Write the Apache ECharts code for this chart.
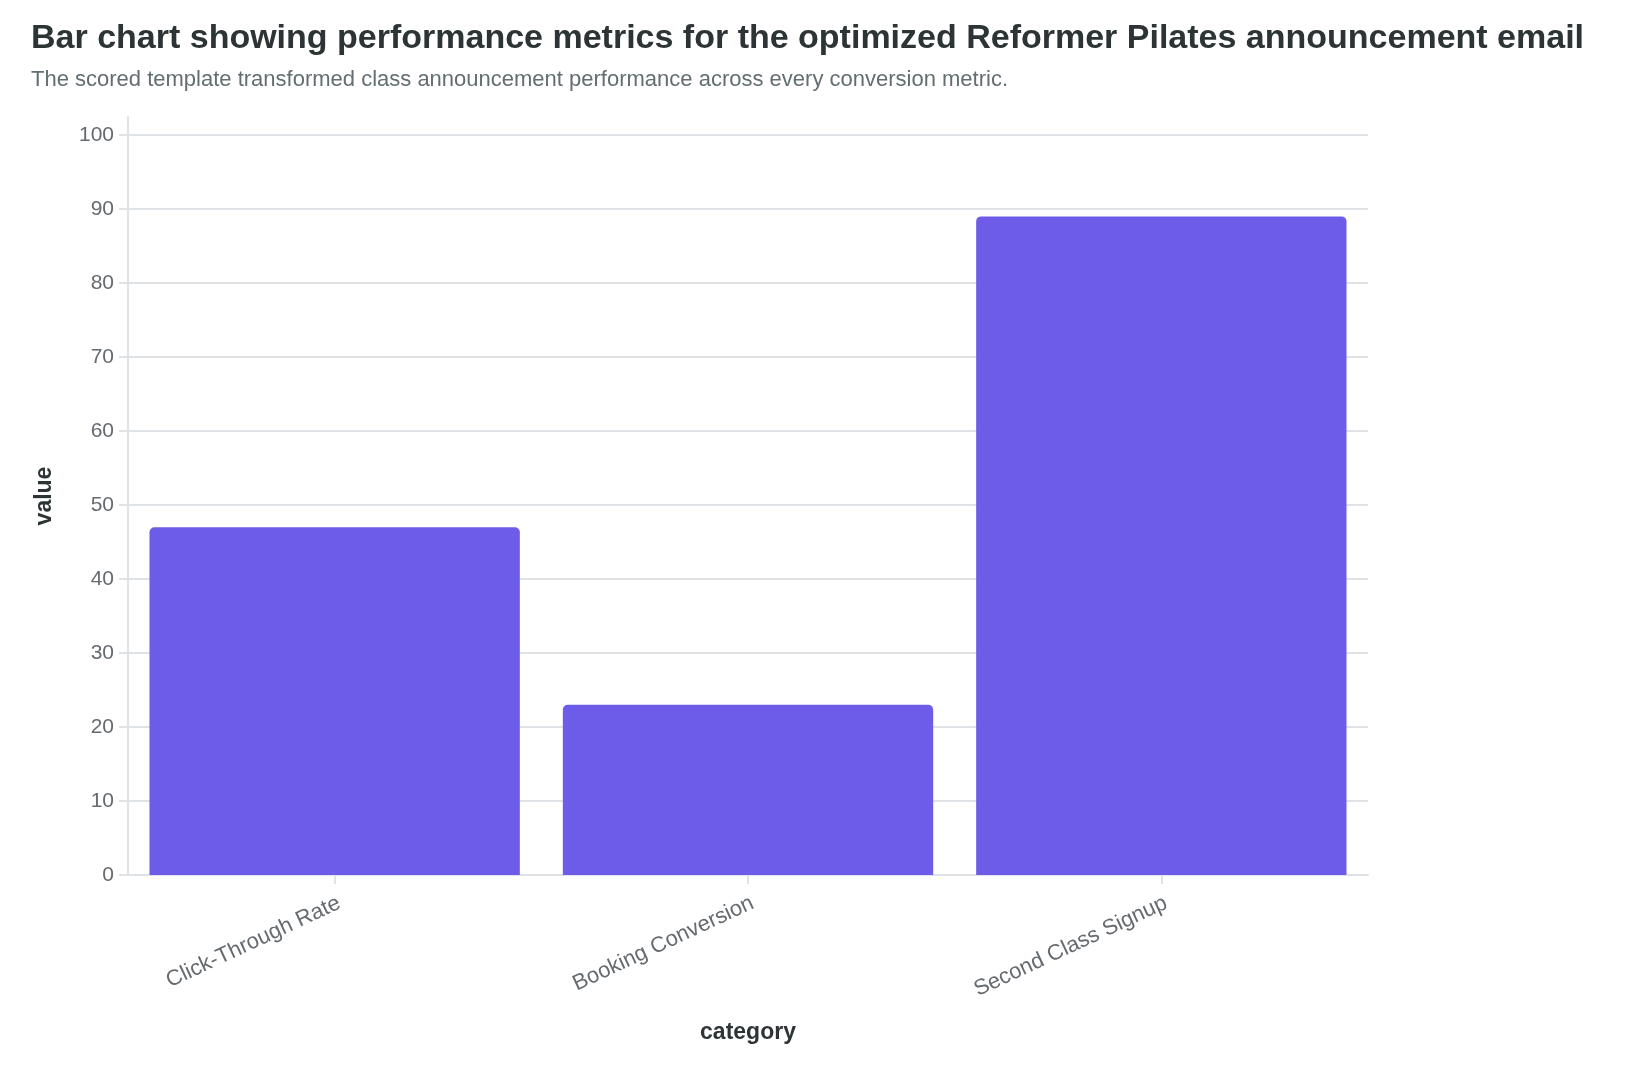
<!DOCTYPE html>
<html>
<head>
<meta charset="utf-8">
<script src="https://cdn.jsdelivr.net/npm/echarts@6/dist/echarts.min.js"></script>
<style>
  html, body { margin: 0; padding: 0; background: #ffffff; }
  #chart { width: 1636px; height: 1072px; }
</style>
</head>
<body>
<div id="chart"></div>
<script>
// Chart data
const categories = ['Click-Through Rate', 'Booking Conversion', 'Second Class Signup'];
const values = [47, 23, 89];
const yTicks = { min: 0, max: 100, interval: 10 };

const FONT = '"Liberation Sans", Arial, sans-serif';
const GRID_COLOR = '#dfe3e6';
const LABEL_COLOR = '#666b70';

const chart = echarts.init(document.getElementById('chart'), null, { renderer: 'canvas' });

chart.setOption({
  backgroundColor: '#ffffff',
  title: [
    {
      text: 'Bar chart showing performance metrics for the optimized Reformer Pilates announcement email',
      left: 31,
      top: 22,
      padding: 0,
      textStyle: { fontFamily: FONT, fontSize: 34, fontWeight: 'bold', color: '#2d3436' },
    },
    {
      text: 'The scored template transformed class announcement performance across every conversion metric.',
      left: 31,
      top: 69,
      padding: 0,
      textStyle: { fontFamily: FONT, fontSize: 22, fontWeight: 'normal', color: '#636e72' },
    },
  ],
  grid: [
    { left: 128, right: 268, top: 135, bottom: 197 },
    // second grid only carries the taller y axis line and its name
    { left: 128, right: 268, top: 117, bottom: 197 },
  ],
  xAxis: [
    {
      type: 'category',
      gridIndex: 0,
      data: categories,
      name: 'category',
      nameLocation: 'middle',
      nameGap: 146,
      nameTextStyle: { fontFamily: FONT, fontSize: 23, fontWeight: 'bold', color: '#2d3436' },
      axisLine: { show: true, lineStyle: { color: GRID_COLOR, width: 2 } },
      axisTick: { show: true, alignWithLabel: true, length: 9, lineStyle: { color: GRID_COLOR, width: 2 } },
      axisLabel: {
        rotate: 25,
        margin: 17,
        verticalAlign: 'top',
        fontFamily: FONT,
        fontSize: 22,
        color: LABEL_COLOR,
      },
    },
    { type: 'category', gridIndex: 1, show: false, data: categories },
  ],
  yAxis: [
    {
      type: 'value',
      gridIndex: 0,
      min: yTicks.min,
      max: yTicks.max,
      interval: yTicks.interval,
      axisLine: { show: false },
      axisTick: { show: true, length: 9, lineStyle: { color: GRID_COLOR, width: 2 } },
      axisLabel: { margin: 14, fontFamily: FONT, fontSize: 21, color: LABEL_COLOR },
      splitLine: { show: true, lineStyle: { color: GRID_COLOR, width: 2 } },
    },
    {
      type: 'value',
      gridIndex: 1,
      min: 0,
      max: 1,
      name: 'value',
      nameLocation: 'middle',
      nameGap: 72,
      nameRotate: 90,
      nameTextStyle: { fontFamily: FONT, fontSize: 23, fontWeight: 'bold', color: '#2d3436' },
      axisLine: { show: true, lineStyle: { color: GRID_COLOR, width: 2 } },
      axisTick: { show: false },
      axisLabel: { show: false },
      splitLine: { show: false },
    },
  ],
  series: [
    {
      type: 'bar',
      xAxisIndex: 0,
      yAxisIndex: 0,
      data: values,
      barCategoryGap: '10.4%',
      itemStyle: { color: '#6c5ce7', borderRadius: [5, 5, 0, 0] },
      silent: true,
    },
  ],
  animation: false,
});
</script>
</body>
</html>
